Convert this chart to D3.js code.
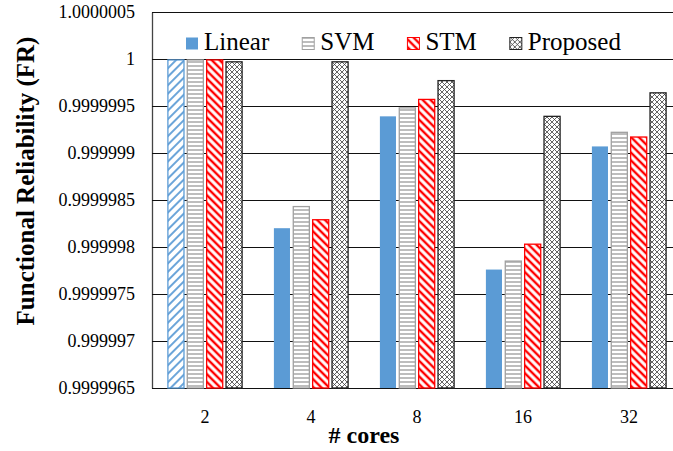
<!DOCTYPE html>
<html>
<head>
<meta charset="utf-8">
<script src="https://cdn.jsdelivr.net/npm/d3@7"></script>
<style>
	body { margin: 0; background: #fff; }
	svg { display: block; }
</style>
</head>
<body>
<div id="chart"></div>
<script>
const categories = ['2', '4', '8', '16', '32'];
const seriesNames = ['Linear', 'SVM', 'STM', 'Proposed'];
const linear = [0.99999999, 0.9999982, 0.99999939, 0.99999776, 0.99999907];
const svm = [0.99999999, 0.99999843, 0.99999948, 0.99999785, 0.99999922];
const stm = [0.99999999, 0.99999829, 0.99999957, 0.99999803, 0.99999917];
const proposed = [0.99999997, 0.99999997, 0.99999977, 0.99999939, 0.99999964];
const yTickValues = [0.9999965, 0.999997, 0.9999975, 0.999998, 0.9999985, 0.999999, 0.9999995, 1, 1.0000005];
const yTickLabels = ['0.9999965', '0.999997', '0.9999975', '0.999998', '0.9999985', '0.999999', '0.9999995', '1', '1.0000005'];

const FONT = '"Liberation Serif", "Times New Roman", Times, serif';
const width = 673;
const height = 451;
const margin = { top: 12, right: -9, bottom: 63, left: 152 };
const chartWidth = width - margin.left - margin.right;
const chartHeight = height - margin.top - margin.bottom;

const svg = d3.select('#chart').append('svg')
	.attr('width', width)
	.attr('height', height);

// fill patterns
const defs = svg.append('defs');

function stripes(id, color, angle, size, lineWidth) {
	const p = defs.append('pattern')
		.attr('id', id)
		.attr('patternUnits', 'userSpaceOnUse')
		.attr('width', size)
		.attr('height', size)
		.attr('patternTransform', `rotate(${angle})`);
	p.append('rect').attr('width', size).attr('height', size).attr('fill', '#fff');
	p.append('line')
		.attr('x1', size / 2).attr('y1', 0)
		.attr('x2', size / 2).attr('y2', size)
		.attr('stroke', color)
		.attr('stroke-width', lineWidth);
}
stripes('stm-fill', '#ff0000', -45, 5.5, 2.4);
stripes('linear-hatch', '#5b9bd5', 45, 6, 1.8);

const hp = defs.append('pattern')
	.attr('id', 'svm-fill')
	.attr('patternUnits', 'userSpaceOnUse')
	.attr('width', 4)
	.attr('height', 4);
hp.append('rect').attr('width', 4).attr('height', 4).attr('fill', '#fff');
hp.append('line')
	.attr('x1', 0).attr('y1', 2).attr('x2', 4).attr('y2', 2)
	.attr('stroke', '#999')
	.attr('stroke-width', 1.3);

const cp = defs.append('pattern')
	.attr('id', 'proposed-fill')
	.attr('patternUnits', 'userSpaceOnUse')
	.attr('width', 5)
	.attr('height', 5);
cp.append('rect').attr('width', 5).attr('height', 5).attr('fill', '#fff');
cp.append('path')
	.attr('d', 'M0,0L5,5M5,0L0,5M-1,4L1,6M4,-1L6,1M4,6L6,4M-1,1L1,-1')
	.attr('stroke', '#333')
	.attr('stroke-width', 0.75);

const styles = {
	Linear: { fill: '#5b9bd5', stroke: 'none' },
	SVM: { fill: 'url(#svm-fill)', stroke: '#a0a0a0' },
	STM: { fill: 'url(#stm-fill)', stroke: '#ff0000' },
	Proposed: { fill: 'url(#proposed-fill)', stroke: '#222' },
};

const g = svg.append('g').attr('transform', `translate(${margin.left},${margin.top})`);

const xScale = d3.scaleBand()
	.domain(categories)
	.range([0, chartWidth])
	.paddingInner(0.3)
	.paddingOuter(0.15);

const xInner = d3.scaleBand()
	.domain(seriesNames)
	.range([0, xScale.bandwidth()])
	.paddingInner(0.17);

const yScale = d3.scaleLinear()
	.domain([yTickValues[0], yTickValues[yTickValues.length - 1]])
	.range([chartHeight, 0]);

// y axis with gridlines
const yAxis = g.append('g')
	.attr('class', 'y axis')
	.call(d3.axisLeft(yScale)
		.tickValues(yTickValues)
		.tickFormat((d, i) => yTickLabels[i])
		.tickSizeInner(-chartWidth)
		.tickSizeOuter(0)
		.tickPadding(17));
yAxis.select('.domain').attr('stroke', '#444').attr('stroke-width', 1.3);
yAxis.selectAll('.tick line').attr('stroke', '#111').attr('stroke-width', 1.2);
yAxis.selectAll('.tick text')
	.attr('font-family', FONT)
	.attr('font-size', 18)
	.attr('fill', '#000');

// x labels
const xAxis = g.append('g')
	.attr('class', 'x axis')
	.attr('transform', `translate(0,${chartHeight})`)
	.call(d3.axisBottom(xScale).tickSize(0).tickPadding(0));
xAxis.select('.domain').remove();
xAxis.selectAll('.tick text')
	.attr('dy', null)
	.attr('y', 35)
	.attr('font-family', FONT)
	.attr('font-size', 18)
	.attr('fill', '#000');

const seriesValues = [linear, svm, stm, proposed];
const barData = [];
categories.forEach((c, ci) => {
	seriesNames.forEach((s, si) => {
		barData.push({ cat: c, series: s, value: seriesValues[si][ci], ci });
	});
});

g.selectAll('.bar')
		.data(barData)
	.enter().append('rect')
		.attr('class', 'bar')
		.attr('x', (d) => xScale(d.cat) + xInner(d.series))
		.attr('y', (d) => yScale(d.value))
		.attr('width', xInner.bandwidth())
		.attr('height', (d) => chartHeight - yScale(d.value))
		.attr('fill', (d) => (d.series === 'Linear' && d.ci === 0) ? 'url(#linear-hatch)' : styles[d.series].fill)
		.attr('stroke', (d) => (d.series === 'Linear' && d.ci === 0) ? '#5b9bd5' : styles[d.series].stroke)
		.attr('stroke-width', 1.3);

// legend
const legend = g.append('g').attr('class', 'legend');
let lx = 34;
seriesNames.forEach((s) => {
	const item = legend.append('g').attr('transform', `translate(${lx},0)`);
	item.append('rect')
		.attr('x', 0)
		.attr('y', 25.5)
		.attr('width', 12)
		.attr('height', 12)
		.attr('fill', styles[s].fill)
		.attr('stroke', styles[s].stroke)
		.attr('stroke-width', 1);
	const t = item.append('text')
		.attr('x', 18)
		.attr('y', 38)
		.attr('font-family', FONT)
		.attr('font-size', 25)
		.attr('fill', '#000')
		.text(s);
	lx += 18 + t.node().getComputedTextLength() + 33;
});

// axis titles
svg.append('text')
	.attr('x', 364)
	.attr('y', 443)
	.attr('text-anchor', 'middle')
	.attr('font-family', FONT)
	.attr('font-size', 24)
	.attr('font-weight', 'bold')
	.text('# cores');

svg.append('text')
	.attr('transform', 'translate(34,181) rotate(-90)')
	.attr('text-anchor', 'middle')
	.attr('font-family', FONT)
	.attr('font-size', 25)
	.attr('font-weight', 'bold')
	.text('Functional Reliability (FR)');
</script>
</body>
</html>
